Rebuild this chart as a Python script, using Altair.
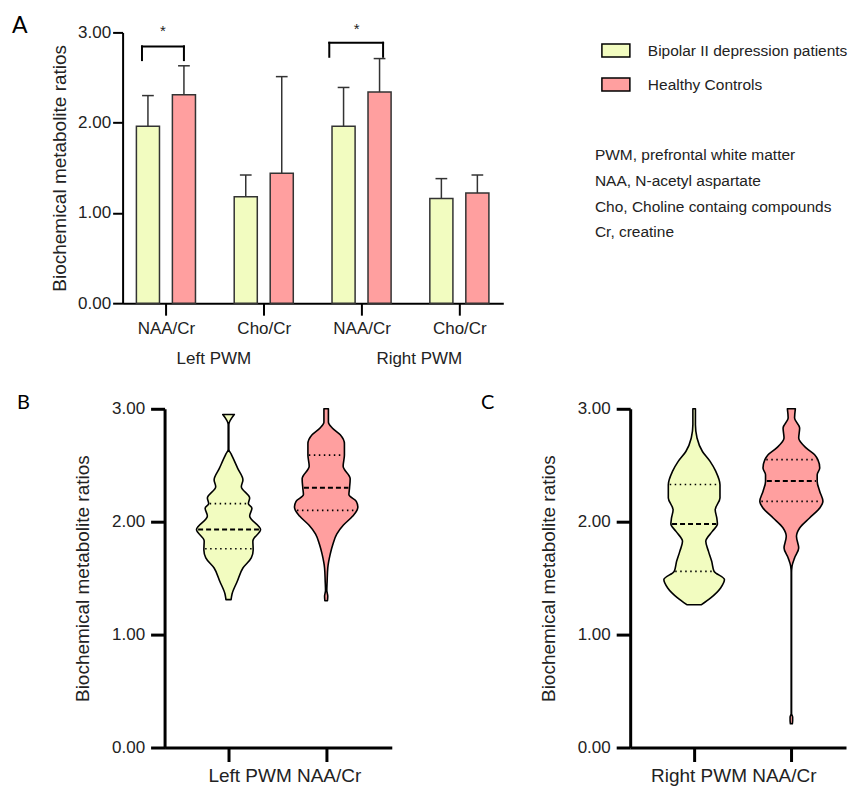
import json
import numpy as np
import pandas as pd
import altair as alt

FONT = "Liberation Sans"
LETTER_FONT = "Lato"
INK = "#222222"
YTITLE = "Biochemical metabolite ratios"

# ---------------- Panel A data ----------------
METABOLITES = ["NAA/Cr", "Cho/Cr", "NAA/Cr", "Cho/Cr"]
REGIONS = ["Left PWM", "Right PWM"]
REGION_X = [0.49, 2.59]
SERIES = ["Bipolar II depression patients", "Healthy Controls"]
COLORS = ["#F2FCC0", "#FF9F9F"]
BD_MEAN = [1.96, 1.18, 1.96, 1.16]
BD_SD = [0.34, 0.24, 0.43, 0.22]
HC_MEAN = [2.31, 1.44, 2.34, 1.22]
HC_SD = [0.32, 1.07, 0.37, 0.20]
SIG_X1 = [-0.245, 1.67]
SIG_X2 = [0.184, 2.22]
SIG_TOP = [2.845, 2.885]
SIG_END = [2.693, 2.730]
SIG_STAR_X = [-0.03, 1.95]
SIG_STAR_Y = [2.955, 2.98]
SIG_LABEL = ["*", "*"]
NOTES = [
    "PWM, prefrontal white matter",
    "NAA, N-acetyl aspartate",
    "Cho, Choline containg compounds",
    "Cr, creatine",
]

# ---------------- Panels B / C data (violin outlines: value, relative half-width) ----------------
B_BD_V = [1.31, 1.36, 1.47, 1.59, 1.68, 1.75, 1.83, 1.93, 2.05, 2.12, 2.16, 2.21, 2.31, 2.37, 2.47, 2.60, 2.64, 2.86, 2.95]
B_BD_W = [0.08, 0.11, 0.27, 0.45, 0.71, 0.77, 0.76, 1.00, 0.66, 0.73, 0.62, 0.66, 0.40, 0.45, 0.29, 0.08, 0.01, 0.01, 0.18]
B_HC_V = [1.30, 1.34, 1.39, 1.47, 1.59, 1.71, 1.80, 1.89, 1.97, 2.05, 2.10, 2.13, 2.18, 2.24, 2.30, 2.38, 2.49, 2.59, 2.69, 2.77, 2.83, 2.88, 3.00]
B_HC_W = [0.04, 0.05, 0.02, 0.03, 0.05, 0.125, 0.21, 0.33, 0.54, 0.83, 0.96, 0.99, 0.94, 0.71, 0.73, 0.75, 0.53, 0.57, 0.57, 0.44, 0.19, 0.07, 0.07]
C_BD_V = [1.265, 1.325, 1.413, 1.487, 1.560, 1.649, 1.737, 1.826, 1.914, 1.979, 2.033, 2.106, 2.210, 2.327, 2.445, 2.534, 2.622, 2.741, 2.858, 3.00]
C_BD_W = [0.23, 0.52, 0.83, 0.95, 0.625, 0.55, 0.45, 0.365, 0.57, 0.73, 0.71, 0.66, 0.81, 0.81, 0.68, 0.50, 0.26, 0.09, 0.04, 0.04]
C_HC_V = [0.21, 0.24, 0.27, 0.30, 1.55, 1.605, 1.679, 1.767, 1.870, 1.944, 2.033, 2.121, 2.180, 2.268, 2.357, 2.416, 2.475, 2.549, 2.593, 2.652, 2.741, 2.829, 2.918, 3.00]
C_HC_W = [0.03, 0.04, 0.04, 0.006, 0.006, 0.02, 0.10, 0.23, 0.16, 0.26, 0.57, 0.89, 0.99, 0.89, 0.81, 0.81, 0.89, 0.83, 0.73, 0.47, 0.23, 0.26, 0.10, 0.125]
# quartiles: Q1, median, Q3
B_BD_Q = [1.76, 1.93, 2.16]
B_HC_Q = [2.10, 2.30, 2.59]
C_BD_Q = [1.56, 1.98, 2.33]
C_HC_Q = [2.18, 2.36, 2.55]

# ---------------- styling constants ----------------
GROUP_OFF = 0.184
BAR_HALF = 0.118
CAP_HALF = 0.06
VIOLIN_K = 0.328

# ---------------- Panel A frames ----------------
bar_rows = []
for i in range(len(METABOLITES)):
    for s, (m, sd) in enumerate([(BD_MEAN[i], BD_SD[i]), (HC_MEAN[i], HC_SD[i])]):
        xc = i + (-GROUP_OFF if s == 0 else GROUP_OFF)
        bar_rows.append({
            "series": SERIES[s], "x": xc, "x1": xc - BAR_HALF, "x2": xc + BAR_HALF,
            "c1": xc - CAP_HALF, "c2": xc + CAP_HALF,
            "mean": m, "top": m + sd, "zero": 0.0,
        })
bars_df = pd.DataFrame(bar_rows)

seg_rows = []
for k in range(len(SIG_X1)):
    seg_rows.append({"x": SIG_X1[k], "x2": SIG_X2[k], "y": SIG_TOP[k], "y2": SIG_TOP[k]})
    seg_rows.append({"x": SIG_X1[k], "x2": SIG_X1[k], "y": SIG_END[k], "y2": SIG_TOP[k]})
    seg_rows.append({"x": SIG_X2[k], "x2": SIG_X2[k], "y": SIG_END[k], "y2": SIG_TOP[k]})
seg_df = pd.DataFrame(seg_rows)
star_df = pd.DataFrame({"x": SIG_STAR_X, "y": SIG_STAR_Y, "label": SIG_LABEL})
region_df = pd.DataFrame({"x": REGION_X, "region": REGIONS})

A_W, A_H = 381, 271
xsA = alt.Scale(domain=[-0.443, 3.449], nice=False, zero=False)
ysA = alt.Scale(domain=[0, 3], nice=False)

xaxA = alt.Axis(values=[0, 1, 2, 3], labelExpr=f"{json.dumps(METABOLITES)}[datum.value]",
                tickSize=12, tickWidth=2, tickColor="black", domainColor="black", domainWidth=2,
                labelPadding=5.5, labelFontSize=17, labelFont=FONT, labelColor=INK, labelAngle=0,
                grid=False, title=None)
yaxA = alt.Axis(values=[0, 1, 2, 3], format=".2f", tickSize=10, tickWidth=2, tickColor="black",
                domainColor="black", domainWidth=2, labelPadding=2, labelFontSize=17, labelFont=FONT,
                labelColor=INK, grid=False, title=YTITLE, titleAngle=270, titleX=-57.3, titleY=A_H / 2,
                titleBaseline="alphabetic", titleAlign="center", titleFont=FONT, titleFontSize=19,
                titleFontWeight="normal", titleColor=INK)

legendA = alt.Legend(orient="none", legendX=478.7, legendY=3.2, title=None,
                     symbolType="M-1,-0.464H1V0.464H-1Z", symbolSize=784,
                     symbolStrokeColor="black", symbolStrokeWidth=1.5,
                     labelFont=FONT, labelFontSize=15.5, labelColor=INK, labelOffset=17,
                     rowPadding=9, direction="vertical", labelLimit=400, padding=0)

bars = alt.Chart(bars_df).mark_bar(stroke="#333333", strokeWidth=1.5).encode(
    x=alt.X("x1:Q", scale=xsA, axis=xaxA),
    x2="x2:Q",
    y=alt.Y("mean:Q", scale=ysA, axis=yaxA),
    y2="zero:Q",
    fill=alt.Fill("series:N", scale=alt.Scale(domain=SERIES, range=COLORS), legend=legendA),
)
err = alt.Chart(bars_df).mark_rule(color="#333333", strokeWidth=1.5).encode(
    x="x:Q", y="mean:Q", y2="top:Q")
caps = alt.Chart(bars_df).mark_rule(color="#333333", strokeWidth=1.5).encode(
    x="c1:Q", x2="c2:Q", y="top:Q")
brackets = alt.Chart(seg_df).mark_rule(color="black", strokeWidth=2, strokeCap="square").encode(
    x="x:Q", x2="x2:Q", y="y:Q", y2="y2:Q")
stars = alt.Chart(star_df).mark_text(font=FONT, fontSize=15, color=INK, baseline="alphabetic", align="center").encode(
    x="x:Q", y="y:Q", text="label:N")
regions = alt.Chart(region_df).mark_text(font=FONT, fontSize=17, color=INK, baseline="alphabetic", align="center").encode(
    x="x:Q", y=alt.value(332), text="region:N")
notes = alt.Chart(pd.DataFrame({"k": [0]})).mark_text(
    font=FONT, fontSize=15.5, color=INK, align="left", baseline="alphabetic", lineHeight=25.8).encode(
    x=alt.value(472.7), y=alt.value(127.7), text=alt.value(NOTES))
letterA = alt.Chart(pd.DataFrame({"t": ["A"]})).mark_text(
    font=LETTER_FONT, fontSize=23, color="black", align="left", baseline="alphabetic").encode(
    x=alt.value(-110.6), y=alt.value(1.0), text="t:N")

chartA = alt.layer(bars, err, caps, brackets, stars, regions, notes, letterA).properties(width=A_W, height=A_H)


# ---------------- Panels B / C ----------------
def violin_frames(profiles, quartiles):
    rows, qrows = [], []
    for g, ((vals, wid), q) in enumerate(zip(profiles, quartiles)):
        c = g + 1
        for v, w in zip(vals, wid):
            rows.append({"series": SERIES[g], "color": COLORS[g], "v": v,
                         "lo": c - w * VIOLIN_K, "hi": c + w * VIOLIN_K})
        for j, qv in enumerate(q):
            hw = float(np.interp(qv, vals, wid)) * VIOLIN_K * 0.95
            qrows.append({"q": qv, "lo": c - hw, "hi": c + hw,
                          "kind": "median" if j == 1 else "quartile"})
    return pd.DataFrame(rows), pd.DataFrame(qrows)


def violin_panel(profiles, quartiles, x_domain, width, height, x_title, tx, ty, letter, lx, ly, lsize):
    vdf, qdf = violin_frames(profiles, quartiles)
    xs = alt.Scale(domain=x_domain, nice=False, zero=False)
    ys = alt.Scale(domain=[0, 3], nice=False)
    xax = alt.Axis(values=[1, 2], labels=False, tickSize=14, tickWidth=3, tickColor="black",
                   domainColor="black", domainWidth=3, grid=False, title=x_title, titleFont=FONT,
                   titleFontSize=19, titleFontWeight="normal", titleColor=INK, titleX=tx, titleY=ty,
                   titleBaseline="middle", titleAlign="center")
    yax = alt.Axis(values=[0, 1, 2, 3], format=".2f", tickSize=14, tickWidth=3, tickColor="black",
                   domainColor="black", domainWidth=3, labelPadding=6, labelFontSize=17, labelFont=FONT,
                   labelColor=INK, grid=False, title=YTITLE, titleAngle=270, titleX=-76, titleY=height / 2,
                   titleBaseline="alphabetic", titleAlign="center", titleFont=FONT, titleFontSize=19,
                   titleFontWeight="normal", titleColor=INK)
    area = alt.Chart(vdf).mark_area(orient="horizontal", interpolate="monotone", stroke="black",
                                    strokeWidth=1.6, strokeJoin="round").encode(
        y=alt.Y("v:Q", scale=ys, axis=yax),
        x=alt.X("lo:Q", scale=xs, axis=xax),
        x2="hi:Q",
        fill=alt.Fill("color:N", scale=None),
        detail="series:N",
    )
    med = alt.Chart(qdf).transform_filter(alt.datum.kind == "median").mark_rule(
        color="black", strokeWidth=2, strokeDash=[5, 3]).encode(
        y="q:Q", x="lo:Q", x2="hi:Q")
    qrt = alt.Chart(qdf).transform_filter(alt.datum.kind == "quartile").mark_rule(
        color="black", strokeWidth=1.6, strokeDash=[1.5, 3.5]).encode(
        y="q:Q", x="lo:Q", x2="hi:Q")
    let = alt.Chart(pd.DataFrame({"t": [letter]})).mark_text(
        font=LETTER_FONT, fontSize=lsize, color="black", align="left", baseline="alphabetic").encode(
        x=alt.value(lx), y=alt.value(ly), text="t:N")
    return alt.layer(area, med, qrt, let).properties(width=width, height=height)


chartB = violin_panel([(B_BD_V, B_BD_W), (B_HC_V, B_HC_W)], [B_BD_Q, B_HC_Q],
                      [0.345, 2.672], 227.4, 339, "Left PWM NAA/Cr", 119.9, 28, "B", -147.6, 0.0, 20)
chartC = violin_panel([(C_BD_V, C_BD_W), (C_HC_V, C_HC_W)], [C_BD_Q, C_HC_Q],
                      [0.342, 2.562], 216, 339, "Right PWM NAA/Cr", 103.2, 28, "C", -149.3, 0.5, 20)


def spacer(w):
    return alt.Chart(pd.DataFrame({"s": [0]})).mark_point(opacity=0, size=1).encode(
        x=alt.value(0), y=alt.value(0)).properties(width=w, height=10)


row2 = alt.hconcat(spacer(42), chartB, spacer(237.6), chartC, spacing=0, bounds="flush")

chart = alt.vconcat(chartA, row2, spacing=105.7, bounds="flush").resolve_scale(
    fill="independent").resolve_legend(fill="independent").properties(
    padding={"left": 3.7, "top": 7.1, "right": 0, "bottom": 0}
).configure_view(stroke=None)

chart.save("out.html", embed_options={"renderer": "svg", "actions": False})
